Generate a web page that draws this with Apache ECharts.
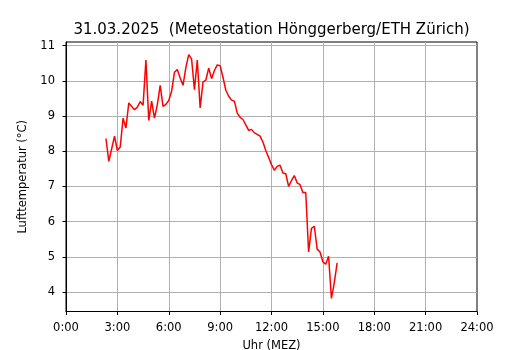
<!DOCTYPE html>
<html>
<head>
<meta charset="utf-8">
<script src="https://cdn.jsdelivr.net/npm/echarts@6/dist/echarts.min.js"></script>
<style>
    html, body { margin: 0; padding: 0; background: #fff; }
    #main-chart { width: 530px; height: 350px; }
</style>
</head>
<body>
<div id="main-chart"></div>
<script>
var titleText = '31.03.2025  (Meteostation Hönggerberg/ETH Zürich)';
var xName = 'Uhr (MEZ)';
var yName = 'Lufttemperatur (°C)';

// Messzeitpunkte (10-Minuten-Werte)
var times = [
    '02:20', '02:30', '02:40', '02:50',
    '03:00', '03:10', '03:20', '03:30', '03:40', '03:50',
    '04:00', '04:10', '04:20', '04:30', '04:40', '04:50',
    '05:00', '05:10', '05:20', '05:30', '05:40', '05:50',
    '06:00', '06:10', '06:20', '06:30', '06:40', '06:50',
    '07:00', '07:10', '07:20', '07:30', '07:40', '07:50',
    '08:00', '08:10', '08:20', '08:30', '08:40', '08:50',
    '09:00', '09:10', '09:20', '09:30', '09:40', '09:50',
    '10:00', '10:10', '10:20', '10:30', '10:40', '10:50',
    '11:00', '11:10', '11:20', '11:30', '11:40', '11:50',
    '12:00', '12:10', '12:20', '12:30', '12:40', '12:50',
    '13:00', '13:10', '13:20', '13:30', '13:40', '13:50',
    '14:00', '14:10', '14:20', '14:30', '14:40', '14:50',
    '15:00', '15:10', '15:20', '15:30', '15:40', '15:50'
];

// Lufttemperatur in °C
var temps = [
    8.36, 7.71, 8.07, 8.43,
    8.02, 8.12, 8.94, 8.66, 9.37, 9.27,
    9.18, 9.25, 9.41, 9.30, 10.59, 8.87,
    9.42, 8.94, 9.32, 9.87, 9.27, 9.33,
    9.44, 9.70, 10.24, 10.32, 10.08, 9.87,
    10.38, 10.74, 10.62, 9.75, 10.59, 9.23,
    9.96, 10.02, 10.36, 10.06, 10.29, 10.45,
    10.43, 10.10, 9.73, 9.56, 9.45, 9.42,
    9.08, 8.96, 8.90, 8.75, 8.59, 8.62,
    8.52, 8.48, 8.43, 8.26, 8.02, 7.82,
    7.62, 7.46, 7.57, 7.60, 7.38, 7.36,
    7.00, 7.17, 7.31, 7.10, 7.05, 6.83,
    6.83, 5.14, 5.81, 5.87, 5.22, 5.14,
    4.86, 4.79, 5.02, 3.82, 4.27, 4.83
];

var mainChart;

window.onload = function () {
    chartInit();
}

function toHours(t) {
    var p = t.split(':');
    return parseInt(p[0], 10) + parseInt(p[1], 10) / 60;
}

function chartInit() {
    mainChart = echarts.init(document.getElementById('main-chart'), null, { renderer: 'canvas' });

    var seriesData = [];
    for (var i = 0; i < times.length; i++) {
        seriesData.push([toHours(times[i]), temps[i]]);
    }

    var fontFam = 'DejaVu Sans';

    var mainOpt = {
        animation: false,
        backgroundColor: '#fff',
        textStyle: { fontFamily: fontFam },
        title: {
            text: titleText,
            left: 266.5,
            textAlign: 'center',
            top: 18,
            textStyle: { fontFamily: fontFam, fontSize: 15, fontWeight: 'normal', color: '#000' }
        },
        grid: {
            left: 66,
            right: 53,
            top: 42,
            bottom: 38.5,
            outerBoundsMode: 'none',
            show: true,
            borderColor: '#000',
            borderWidth: 1,
            backgroundColor: 'transparent'
        },
        xAxis: {
            type: 'value',
            min: 0,
            max: 24,
            interval: 3,
            name: xName,
            nameLocation: 'middle',
            nameGap: 29,
            nameTextStyle: { fontFamily: fontFam, fontSize: 11.5, color: '#000' },
            axisLine: { lineStyle: { color: '#000', width: 1 } },
            axisTick: { length: 3.5, lineStyle: { color: '#000' } },
            axisLabel: {
                margin: 11,
                fontFamily: fontFam,
                fontSize: 11.5,
                color: '#000',
                formatter: function (v) { return v + ':00'; }
            },
            splitLine: {
                show: true,
                showMinLine: false,
                showMaxLine: false,
                lineStyle: { color: '#b0b0b0', width: 1 }
            }
        },
        yAxis: {
            type: 'value',
            min: 3.45,
            max: 11.1,
            splitNumber: 7,
            name: yName,
            nameLocation: 'middle',
            nameGap: 28,
            nameTextStyle: { fontFamily: fontFam, fontSize: 11.5, color: '#000' },
            axisLine: { show: true, lineStyle: { color: '#000', width: 1 } },
            axisTick: { show: true, length: 3.5, lineStyle: { color: '#000' } },
            axisLabel: {
                margin: 11,
                fontFamily: fontFam,
                fontSize: 11.5,
                color: '#000',
                showMinLabel: false,
                showMaxLabel: false
            },
            splitLine: {
                show: true,
                showMinLine: false,
                showMaxLine: false,
                lineStyle: { color: '#b0b0b0', width: 1 }
            }
        },
        series: [{
            type: 'line',
            data: seriesData,
            showSymbol: false,
            symbol: 'none',
            lineStyle: { color: '#ff0000', width: 1.5 },
            itemStyle: { color: '#ff0000' }
        }]
    };

    mainChart.setOption(mainOpt);
}
</script>
</body>
</html>
